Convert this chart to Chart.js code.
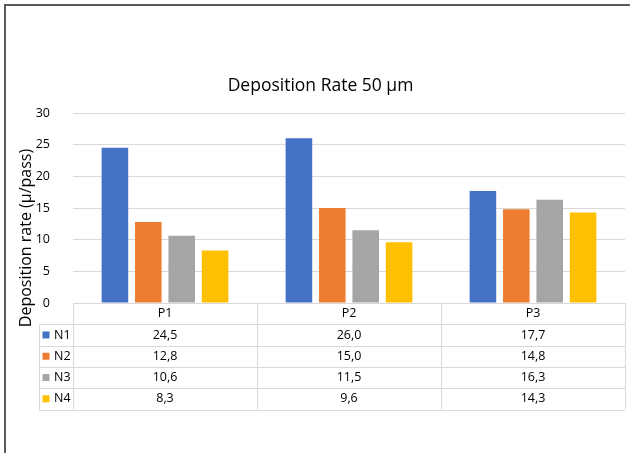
<!DOCTYPE html>
<html>
<head>
<meta charset="utf-8">
<script src="https://cdn.jsdelivr.net/npm/chart.js@4/dist/chart.umd.min.js"></script>
<style>
    body { margin: 0; background: #fff; }
    #box { position: relative; width: 631px; height: 453px; }
</style>
</head>
<body>
<div id="box"><canvas id="chart1" width="631" height="453"></canvas></div>
<script>
const categories = ["P1", "P2", "P3"];
const seriesNames = ["N1", "N2", "N3", "N4"];
const n1 = [24.5, 26.0, 17.7];
const n2 = [12.8, 15.0, 14.8];
const n3 = [10.6, 11.5, 16.3];
const n4 = [8.3, 9.6, 14.3];
const yTicks = [0, 5, 10, 15, 20, 25, 30];
const colors = ["#4472C4", "#ED7D31", "#A5A5A5", "#FFC000"];

const FONT = "'Open Sans', 'Noto Sans', sans-serif";
const LINE = "#D9D9D9";
const ROW_H = 21.3;

// cadre + titre de l'axe y + tableau de données
const dataTable = {
    id: "dataTable",
    beforeDraw(chart) {
        const ctx = chart.ctx;
        ctx.save();
        ctx.strokeStyle = "#5a5a5a";
        ctx.lineWidth = 2;
        ctx.beginPath();
        ctx.moveTo(5, 453);
        ctx.lineTo(5, 5);
        ctx.lineTo(630, 5);
        ctx.stroke();
        ctx.restore();
    },
    afterDraw(chart) {
        const ctx = chart.ctx;
        const area = chart.chartArea;
        const xs = chart.scales.x;
        const top = area.bottom;
        const bottom = top + ROW_H * (seriesNames.length + 1);
        const keyLeft = 39;

        ctx.save();

        // titre axe y
        ctx.translate(26, 238);
        ctx.rotate(-Math.PI / 2);
        ctx.font = "16px " + FONT;
        ctx.fillStyle = "#000";
        ctx.textAlign = "center";
        ctx.textBaseline = "middle";
        ctx.fillText("Deposition rate (µ/pass)", 0, 0);
        ctx.setTransform(1, 0, 0, 1, 0, 0);

        // lignes
        ctx.strokeStyle = LINE;
        ctx.lineWidth = 1;
        ctx.beginPath();
        ctx.moveTo(area.left, top + 0.5);
        ctx.lineTo(area.right, top + 0.5);
        for (let r = 1; r <= seriesNames.length + 1; r++) {
            const y = Math.round(top + ROW_H * r) + 0.5;
            ctx.moveTo(keyLeft, y);
            ctx.lineTo(area.right, y);
        }
        ctx.moveTo(keyLeft + 0.5, Math.round(top + ROW_H));
        ctx.lineTo(keyLeft + 0.5, bottom);
        const edges = [area.left];
        for (let i = 0; i < categories.length - 1; i++) {
            edges.push((xs.getPixelForValue(i) + xs.getPixelForValue(i + 1)) / 2);
        }
        edges.push(area.right);
        edges.forEach(x => {
            ctx.moveTo(Math.round(x) + 0.5, top);
            ctx.lineTo(Math.round(x) + 0.5, bottom);
        });
        ctx.stroke();

        // textes
        ctx.font = "12.5px " + FONT;
        ctx.fillStyle = "#000";
        ctx.textBaseline = "middle";
        ctx.textAlign = "center";
        categories.forEach((c, i) => {
            ctx.fillText(c, xs.getPixelForValue(i), top + ROW_H / 2);
        });
        chart.data.datasets.forEach((ds, s) => {
            const yc = top + ROW_H * (s + 1) + ROW_H / 2;
            ctx.fillStyle = ds.backgroundColor;
            ctx.fillRect(keyLeft + 3.5, yc - 3.5, 7, 7);
            ctx.fillStyle = "#000";
            ctx.textAlign = "left";
            ctx.fillText(ds.label, keyLeft + 15, yc);
            ctx.textAlign = "center";
            ds.data.forEach((v, i) => {
                ctx.fillText(v.toFixed(1).replace(".", ","), xs.getPixelForValue(i), yc);
            });
        });
        ctx.restore();
    }
};

const allSeries = [n1, n2, n3, n4];

new Chart(document.getElementById("chart1").getContext("2d"), {
    type: "bar",
    data: {
        labels: categories,
        datasets: seriesNames.map((name, i) => ({
            label: name,
            data: allSeries[i],
            backgroundColor: colors[i],
            categoryPercentage: 0.726,
            barPercentage: 0.796
        }))
    },
    options: {
        responsive: false,
        animation: false,
        devicePixelRatio: 1,
        layout: { padding: { left: 16, right: 6, top: 0, bottom: 0 } },
        plugins: {
            legend: { display: false },
            tooltip: { enabled: false },
            title: {
                display: true,
                text: "Deposition Rate 50 µm",
                color: "#000",
                font: { family: FONT, size: 17.5, weight: "normal" },
                padding: { top: 75.5, bottom: 16.5 }
            }
        },
        scales: {
            x: {
                ticks: { display: false },
                grid: { display: false },
                border: { display: false },
                afterFit: s => { s.height = 150; }
            },
            y: {
                min: 0,
                max: 30,
                afterBuildTicks: s => { s.ticks = yTicks.map(v => ({ value: v })); },
                afterFit: s => { s.width = 57; },
                ticks: {
                    color: "#000",
                    padding: 23,
                    font: { family: FONT, size: 12.5 }
                },
                grid: { color: LINE, drawTicks: false },
                border: { display: false }
            }
        }
    },
    plugins: [dataTable]
});
</script>
</body>
</html>
